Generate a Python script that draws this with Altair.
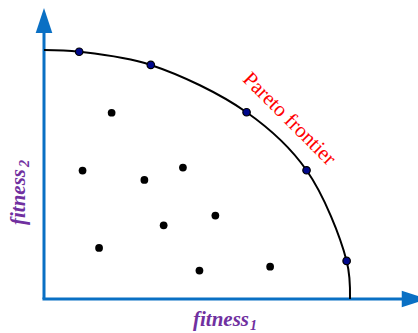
import altair as alt
import pandas as pd

# Objective space: both fitness values scaled so the Pareto frontier passes through (0,1) and (1,0)
front_x = [0.0, 0.115, 0.349, 0.662, 0.858, 0.989, 1.0]
front_y = [1.0, 0.993, 0.940, 0.750, 0.517, 0.153, 0.0]
front_is_solution = [False, True, True, True, True, True, False]

# Dominated solutions inside the frontier
inner_x = [0.221, 0.126, 0.454, 0.328, 0.560, 0.391, 0.180, 0.508, 0.739]
inner_y = [0.748, 0.516, 0.528, 0.478, 0.335, 0.296, 0.205, 0.114, 0.130]

W, H = 418, 333
AXIS_BLUE = "#0A70C4"
PURPLE = "#7030A0"

front = pd.DataFrame({"f1": front_x, "f2": front_y, "sol": front_is_solution,
                      "order": list(range(len(front_x)))})
inner = pd.DataFrame({"f1": inner_x, "f2": inner_y})

xs = alt.Scale(domain=[-44 / 306, 374 / 306], nice=False, zero=False)
ys = alt.Scale(domain=[-34 / 249, 299 / 249], nice=False, zero=False)


def X(field_or_val):
    if isinstance(field_or_val, str):
        return alt.X(field_or_val, type="quantitative", scale=xs, axis=None)
    return alt.X(datum=field_or_val, type="quantitative", scale=xs, axis=None)


def Y(field_or_val):
    if isinstance(field_or_val, str):
        return alt.Y(field_or_val, type="quantitative", scale=ys, axis=None)
    return alt.Y(datum=field_or_val, type="quantitative", scale=ys, axis=None)


base = alt.Chart(pd.DataFrame({"k": [0]}))

# Axes drawn as arrows
y_axis = base.mark_rule(color=AXIS_BLUE, strokeWidth=3).encode(
    x=X(0.0), y=Y(0.0), y2=alt.Y2(datum=1.08)
)
x_axis = base.mark_rule(color=AXIS_BLUE, strokeWidth=3).encode(
    y=Y(0.0), x=X(-0.005), x2=alt.X2(datum=1.18)
)
up_head = base.mark_point(
    shape="M0,-1L0.664,1L-0.664,1Z", filled=True, color=AXIS_BLUE, opacity=1, size=625
).encode(x=X(0.0), y=Y(1.118))
right_head = base.mark_point(
    shape="M1,0L-1,-0.664L-1,0.664Z", filled=True, color=AXIS_BLUE, opacity=1, size=625
).encode(x=X(1.21), y=Y(0.0))

# Pareto frontier curve through the non-dominated solutions
frontier = alt.Chart(front).mark_line(
    color="black", strokeWidth=2, interpolate="catmull-rom"
).encode(x=X("f1"), y=Y("f2"), order="order:Q")

front_pts = alt.Chart(front).transform_filter("datum.sol").mark_point(
    filled=True, fill="#00088C", stroke="black", strokeWidth=1.2, size=56, opacity=1
).encode(x=X("f1"), y=Y("f2"))

inner_pts = alt.Chart(inner).mark_circle(color="black", size=60, opacity=1).encode(
    x=X("f1"), y=Y("f2")
)

serif = "Liberation Serif"

label_front = base.mark_text(
    text="Pareto frontier", font=serif, fontSize=21, color="#FF0000",
    angle=45, align="center", baseline="middle"
).encode(x=alt.value(289), y=alt.value(119))

f1_main = base.mark_text(
    text="fitness", font=serif, fontSize=21, fontStyle="italic", fontWeight="bold",
    color=PURPLE, align="left", baseline="alphabetic"
).encode(x=alt.value(193), y=alt.value(326))
f1_sub = base.mark_text(
    text="1", font=serif, fontSize=14, fontStyle="italic", fontWeight="bold",
    color=PURPLE, align="left", baseline="alphabetic"
).encode(x=alt.value(250), y=alt.value(330))

f2_main = base.mark_text(
    text="fitness", font=serif, fontSize=21, fontStyle="italic", fontWeight="bold",
    color=PURPLE, align="left", baseline="alphabetic", angle=270
).encode(x=alt.value(25), y=alt.value(225))
f2_sub = base.mark_text(
    text="2", font=serif, fontSize=14, fontStyle="italic", fontWeight="bold",
    color=PURPLE, align="left", baseline="alphabetic", angle=270
).encode(x=alt.value(29), y=alt.value(167))

chart = alt.layer(
    y_axis, x_axis, up_head, right_head, frontier, front_pts, inner_pts,
    label_front, f1_main, f1_sub, f2_main, f2_sub
).properties(
    width=W, height=H, padding=0, autosize=alt.AutoSizeParams(type="none"),
    background="white"
).configure_view(stroke=None)

chart.save("out.html", embed_options={"renderer": "svg", "actions": False})
